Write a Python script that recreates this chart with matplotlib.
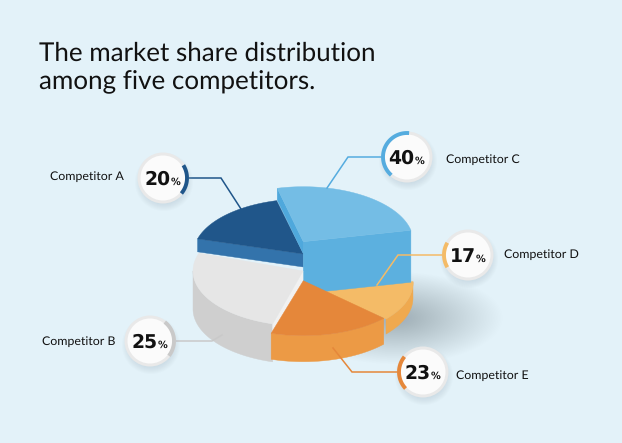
import numpy as np
import matplotlib
matplotlib.use('Agg')
import matplotlib.pyplot as plt
from matplotlib.patches import Polygon, Circle, Ellipse

plt.rcParams['font.family'] = ['Lato', 'DejaVu Sans']
plt.rcParams['text.hinting'] = 'none'

title = 'The market share distribution\namong five competitors.'
names = ['Competitor A', 'Competitor B', 'Competitor C', 'Competitor D', 'Competitor E']
shares = [20, 25, 40, 17, 23]
colors = ['#20568A', '#C9C9C9', '#55ACDF', '#F4BB67', '#E5873A']

# drawn wedge angles (the picture is not to scale), ellipse parameter in degrees
wedge_start = [104, 161, 12, -41, 253]
wedge_end = [164, 254, 103.7, 1.4, 317]
wedge_height = [13, 38, 52, 15, 26]
sliver_height = [13, 11, 12, 15, 26]
wedge_x = [303.3, 303, 303.3, 303, 303.3]
wedge_y = [254, 271, 241.7, 283, 280.7]
top_col = ['#20568A', '#E6E6E6', '#74BDE5', '#F4BB67', '#E5873A']
side_col = ['#3373AB', '#CFCFCF', '#5CB0DF', '#EFA94F', '#EC9A45']
cut_col = ['#3373AB', '#F1F1F1', '#4FA8DC', '#EFA94F', '#EC9A45']

# callouts
circle_x = [163, 150, 407, 468, 423]
circle_y = [178, 341, 157, 255, 372]
ring_mid = [-4, 7, 157, 180, 182]
label_x = [50.5, 42.5, 446.5, 503.5, 456.5]
label_y = [177, 342, 160, 255, 376]
line_x = [[189, 221, 241], [176, 212, 222], [383, 348, 327], [444, 398, 377], [399, 352, 333]]
line_y = [[178, 178, 209], [341, 341, 335], [157, 157, 188], [255, 255, 285], [372, 372, 348]]
line_col = ['#20568A', '#C9C9C9', '#55ACDF', '#F4BB67', '#E5873A']

RX, RY = 110, 55

fig = plt.figure(figsize=(6.22, 4.43), dpi=100, facecolor='#E3F2F9')
ax = fig.add_axes([0, 0, 1, 1])
ax.set_xlim(0, 622)
ax.set_ylim(443, 0)
ax.axis('off')


def pt(i, t):
    t = np.radians(t)
    return wedge_x[i] + RX * np.cos(t), wedge_y[i] - RY * np.sin(t)


def arc(i, t0, t1):
    t = np.linspace(t0, t1, 60)
    x, y = pt(i, t)
    return np.column_stack([x, y])


def cut_face(i, t, col, z, h):
    x, y = pt(i, t)
    cx, cy = wedge_x[i], wedge_y[i]
    ax.add_patch(Polygon([(cx, cy), (x, y), (x, y + h), (cx, cy + h)], fc=col, ec=col, lw=0.3, zorder=z))


def outer_side(i, t0, t1, z):
    a = arc(i, t0, t1)
    b = a[::-1] + [0, wedge_height[i]]
    ax.add_patch(Polygon(np.vstack([a, b]), fc=side_col[i], ec=side_col[i], lw=0.3, zorder=z))


def top_face(i, z):
    a = arc(i, wedge_start[i], wedge_end[i])
    pts = np.vstack([[wedge_x[i], wedge_y[i]], a])
    ax.add_patch(Polygon(pts, fc=top_col[i], ec=top_col[i], lw=0.3, zorder=z))


# soft shadow right of the pie
for k in range(70):
    f = 1 - k / 70
    ax.add_patch(Ellipse((395, 318), 215 * f, 92 * f, fc='#8FAEBF', ec='none', alpha=0.009, zorder=1))

# back to front: D, A, C, B, E
outer_side(3, wedge_start[3], wedge_end[3], 2)
top_face(3, 2.1)

cut_face(0, wedge_end[0], side_col[0], 3, sliver_height[0])
top_face(0, 3.1)

cut_face(2, wedge_start[2], side_col[2], 4, wedge_height[2])
cut_face(2, wedge_end[2], cut_col[2], 4, sliver_height[2])
top_face(2, 4.1)

outer_side(1, 180, wedge_end[1], 5)
cut_face(1, wedge_end[1], cut_col[1], 5, sliver_height[1])
top_face(1, 5.1)

outer_side(4, wedge_start[4], wedge_end[4], 6)
top_face(4, 6.1)

ax.text(39, 53, title.split('\n')[0], fontsize=18.7, color='#111111', va='center', ha='left', zorder=20)
ax.text(39, 82, title.split('\n')[1], fontsize=18.7, color='#111111', va='center', ha='left', zorder=20)

for i in range(5):
    ax.plot(line_x[i], line_y[i], color=line_col[i], lw=1.1, zorder=7, solid_joinstyle='miter')
    cx, cy = circle_x[i], circle_y[i]
    # circle shadow
    for k in range(8):
        ax.add_patch(Circle((cx + 1, cy + 4), 29 - k, fc='#9DB2BD', ec='none', alpha=0.04, zorder=8))
    ax.add_patch(Circle((cx, cy), 25.5, fc='#E9E9E9', ec='none', zorder=9))
    ax.add_patch(Circle((cx, cy), 22.5, fc='#FBFBFB', ec='none', zorder=10))
    sweep = shares[i] * 3.6
    t = np.radians(np.linspace(ring_mid[i] - sweep / 2, ring_mid[i] + sweep / 2, 60))
    ax.plot(cx + 24 * np.cos(t), cy - 24 * np.sin(t), color=colors[i], lw=2.8,
            solid_capstyle='butt', zorder=11)
    ax.text(cx + 7.5, cy + 6.5, str(shares[i]), fontsize=13.5, fontweight='bold', family='DejaVu Sans',
            color='#111111', ha='right', va='baseline', zorder=12)
    ax.text(cx + 7.5, cy + 6.5, '%', fontsize=7, fontweight='bold', family='DejaVu Sans',
            color='#111111', ha='left', va='baseline', zorder=12)
    ax.text(label_x[i], label_y[i], names[i], fontsize=8.9, color='#111111', ha='left', va='center', zorder=12)

fig.savefig('out.png', dpi=100, facecolor=fig.get_facecolor())
